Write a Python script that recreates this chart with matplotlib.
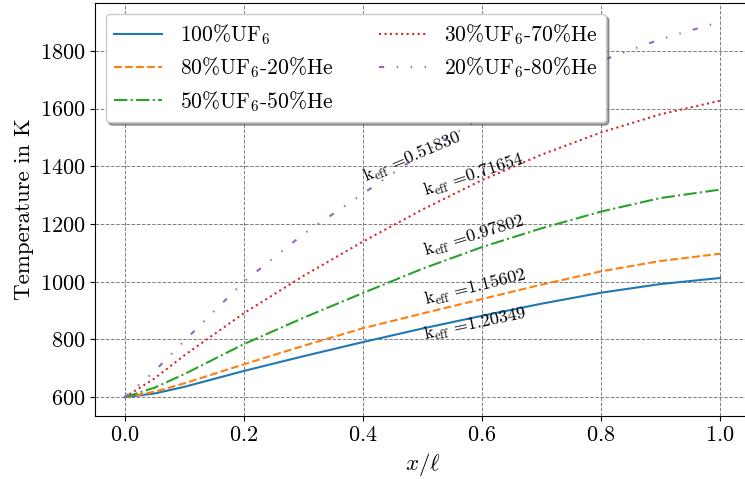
import numpy as np
import matplotlib
matplotlib.use('Agg')
import matplotlib.pyplot as plt

plt.rcParams['font.family'] = 'cmr10'
plt.rcParams['mathtext.fontset'] = 'cm'
plt.rcParams['axes.formatter.use_mathtext'] = True
plt.rcParams['axes.unicode_minus'] = False

# data
x = [0.0, 0.05, 0.1, 0.2, 0.3, 0.4, 0.5, 0.6, 0.7, 0.8, 0.9, 1.0]
t_100 = [600, 613, 636, 691, 742, 791, 838, 882, 924, 962, 992, 1013]
t_80 = [600, 619, 648, 714, 778, 839, 890, 940, 990, 1036, 1072, 1097]
t_50 = [600, 633, 680, 784, 875, 961, 1045, 1120, 1185, 1243, 1290, 1319]
t_30 = [600, 665, 745, 891, 1020, 1139, 1250, 1352, 1440, 1517, 1580, 1627]
t_20 = [600, 690, 795, 1000, 1165, 1305, 1445, 1570, 1675, 1765, 1840, 1900]

labels = ['100%UF$_6$', '80%UF$_6$-20%He', '50%UF$_6$-50%He',
          '30%UF$_6$-70%He', '20%UF$_6$-80%He']
keff = ['1.20349', '1.15602', '0.97802', '0.71654', '0.51830']
# label anchor (x, T) and angle
keff_pos = [(0.505, 798, 12), (0.505, 919, 14), (0.505, 1087, 17),
            (0.505, 1295, 18), (0.405, 1345, 23)]

series = [t_100, t_80, t_50, t_30, t_20]
colors = ['#1f77b4', '#ff7f0e', '#2ca02c', '#d62728', '#9467bd']
styles = ['-', '--', '-.', ':', (0, (2.5, 6, 0.7, 6, 0.7, 6))]

fig = plt.figure(figsize=(7.45, 4.79), dpi=100)
ax = fig.add_axes([0.1275, 0.1315, 0.879, 0.862])

for t, lab, c, ls in zip(series, labels, colors, styles):
    ax.plot(x, t, color=c, linestyle=ls, linewidth=1.5, label=lab)

for k, (px, py, rot) in zip(keff, keff_pos):
    ax.text(px, py, r'$\mathrm{k}_{\mathrm{eff}}$ =' + k, fontsize=13,
            rotation=rot, rotation_mode='anchor', ha='left', va='baseline')

ax.grid(True, color='gray', linestyle='--', linewidth=0.7)
ax.set_xticks([0.0, 0.2, 0.4, 0.6, 0.8, 1.0])
ax.set_yticks([600, 800, 1000, 1200, 1400, 1600, 1800])
ax.tick_params(labelsize=16)
ax.set_xlabel(r'$x/\ell$', fontsize=16.5)
ax.set_ylabel('Temperature in K', fontsize=16.5)

ax.legend(ncol=2, fontsize=15.5, loc='upper left', fancybox=True,
          shadow=True, framealpha=1, handlelength=2.2, handletextpad=0.85,
          columnspacing=2.1, labelspacing=0.4)

fig.savefig('out.png', dpi=100)
